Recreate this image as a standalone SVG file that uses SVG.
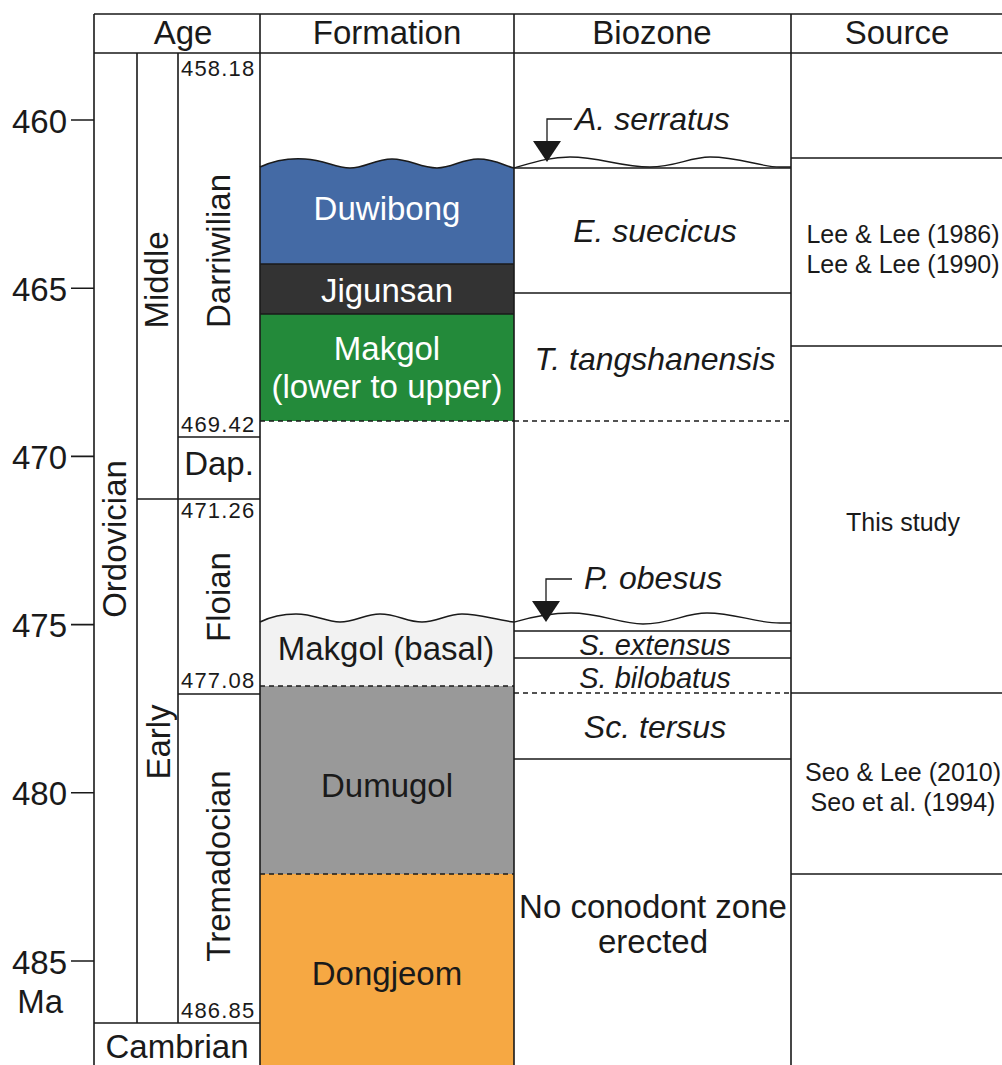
<svg xmlns="http://www.w3.org/2000/svg" width="1002" height="1065" viewBox="0 0 1002 1065">
<style>
text{font-family:"Liberation Sans",Arial,sans-serif;fill:#1a1a1a}
.h{font-size:33px;text-anchor:middle}
.t{font-size:33px;text-anchor:end}
.f{font-size:33px;text-anchor:middle}
.w{fill:#ffffff}
.b{font-size:32px;font-style:italic;text-anchor:middle}
.bz{font-size:29px;font-style:italic;text-anchor:middle}
.bs{font-size:32px;font-style:italic}
.s{font-size:25px;text-anchor:middle}
.n{font-size:22px;letter-spacing:1.2px}
.r{font-size:33px;text-anchor:middle}
.ln{stroke:#1a1a1a;stroke-width:1.6;fill:none}
.th{stroke:#1a1a1a;stroke-width:1.3;fill:none}
.ds{stroke:#1a1a1a;stroke-width:1.3;fill:none;stroke-dasharray:5 4}
</style>
<rect width="1002" height="1065" fill="#ffffff"/>

<g id="formation-fills">
<path id="fill-duwibong" d="M260,167 C275,160 290,158 305,159 C325,160 335,168 350,168 C365,168 375,159 392,159 C410,159 420,168 437,168 C452,168 462,159 478,159 C495,159 505,166 514,168 L514,264 L260,264 Z" fill="#446aa5"/>
<rect id="fill-jigunsan" x="260" y="264" width="254" height="50" fill="#333333"/>
<rect id="fill-makgol" x="260" y="314" width="254" height="107" fill="#238a3a"/>
<path id="fill-basal" d="M260,622 C272,616 283,614 296,614 C315,614 325,622 340,622 C355,622 365,614 380,614 C397,614 407,622 422,622 C437,622 447,614 462,614 C480,614 495,620 514,622 L514,686 L260,686 Z" fill="#f2f2f2"/>
<rect id="fill-dumugol" x="260" y="686" width="254" height="188" fill="#999999"/>
<rect id="fill-dongjeom" x="260" y="874" width="254" height="191" fill="#f6a843"/>
</g>

<g id="connectors">
<path class="ln" d="M94,14 H1002 M94,53 H1002 M94,14 V1065 M260,14 V1065 M514,14 V1065 M791,14 V1065"/>
<path class="ln" d="M137,53 V1023 M178,53 V1023 M94,1023 H260"/>
<path class="ln" d="M178,437 H260 M137,499 H260 M178,694 H260"/>
<path class="ln" d="M71,120 H94 M71,288.2 H94 M71,456.4 H94 M71,624.6 H94 M71,792.8 H94 M71,961 H94"/>
<path class="ln" d="M260,167 C275,160 290,158 305,159 C325,160 335,168 350,168 C365,168 375,159 392,159 C410,159 420,168 437,168 C452,168 462,159 478,159 C495,159 505,166 514,168"/>
<path class="th" d="M260,264 H514 M260,314 H514"/>
<path class="ds" d="M260,421 H514 M260,686 H514 M260,874 H514"/>
<path class="ln" d="M260,622 C272,616 283,614 296,614 C315,614 325,622 340,622 C355,622 365,614 380,614 C397,614 407,622 422,622 C437,622 447,614 462,614 C480,614 495,620 514,622"/>
<path class="th" d="M514,168 C535,162 550,157 570,157 C600,157 620,167 650,167 C675,167 690,157 710,157 C740,157 760,167 780,167 L791,167"/>
<path class="th" d="M514,168 H791 M514,293 H791 M514,631 H791 M514,658 H791 M514,759 H791"/>
<path class="ds" d="M514,421 H791 M514,693 H791"/>
<path class="th" d="M514,622 C535,616 552,613 571,613 C600,613 620,624 643,624 C670,624 685,613 707,613 C735,613 755,623 780,623 L791,623"/>
<path class="th" d="M791,158 H1002 M791,346 H1002 M791,693 H1002 M791,874 H1002"/>
<path class="th" d="M572,119 H547 V142"/>
<polygon points="533,141 561,141 547,162" fill="#1a1a1a"/>
<path class="th" d="M572,579 H546 V602"/>
<polygon points="532,601 560,601 546,622" fill="#1a1a1a"/>
</g>

<g id="header">
<text class="h" x="183" y="44">Age</text>
<text class="h" x="387" y="44">Formation</text>
<text class="h" x="652" y="44">Biozone</text>
<text class="h" x="897" y="44">Source</text>
</g>

<g id="axis">
<text class="t" x="67" y="132.5">460</text>
<text class="t" x="67" y="300.7">465</text>
<text class="t" x="67" y="468.9">470</text>
<text class="t" x="67" y="637.1">475</text>
<text class="t" x="67" y="805.3">480</text>
<text class="t" x="67" y="973.5">485</text>
<text class="t" x="63" y="1013">Ma</text>
</g>

<g id="age">
<text class="r" transform="translate(126,539) rotate(-90)">Ordovician</text>
<text class="r" transform="translate(168,280) rotate(-90)">Middle</text>
<text class="r" transform="translate(170,742) rotate(-90)">Early</text>
<text class="r" transform="translate(230,251) rotate(-90)">Darriwilian</text>
<text class="r" transform="translate(230,597) rotate(-90)">Floian</text>
<text class="r" transform="translate(230,866) rotate(-90)">Tremadocian</text>
<text class="r" x="219" y="475">Dap.</text>
<text class="n" x="181" y="76">458.18</text>
<text class="n" x="181" y="432">469.42</text>
<text class="n" x="181" y="518">471.26</text>
<text class="n" x="181" y="688">477.08</text>
<text class="n" x="181" y="1018">486.85</text>
<text class="r" x="177" y="1058">Cambrian</text>
</g>

<g id="formations">
<text class="f w" x="387" y="220">Duwibong</text>
<text class="f w" x="387" y="302">Jigunsan</text>
<text class="f w" x="387" y="360">Makgol</text>
<text class="f w" x="387" y="398">(lower to upper)</text>
<text class="f" x="386" y="660">Makgol (basal)</text>
<text class="f" x="387" y="797">Dumugol</text>
<text class="f" x="387" y="985">Dongjeom</text>
</g>

<g id="biozones">
<text class="bs" x="575" y="130">A. serratus</text>
<text class="b" x="655" y="242">E. suecicus</text>
<text class="b" x="655" y="370">T. tangshanensis</text>
<text class="bs" x="584" y="589">P. obesus</text>
<text class="bz" x="655" y="655">S. extensus</text>
<text class="bz" x="655" y="688">S. bilobatus</text>
<text class="b" x="655" y="738">Sc. tersus</text>
<text class="f" x="653" y="918">No conodont zone</text>
<text class="f" x="653" y="953">erected</text>
</g>

<g id="sources">
<text class="s" x="903" y="243">Lee &amp; Lee (1986)</text>
<text class="s" x="903" y="273">Lee &amp; Lee (1990)</text>
<text class="s" x="903" y="531">This study</text>
<text class="s" x="903" y="781">Seo &amp; Lee (2010)</text>
<text class="s" x="903" y="811">Seo et al. (1994)</text>
</g>
</svg>
